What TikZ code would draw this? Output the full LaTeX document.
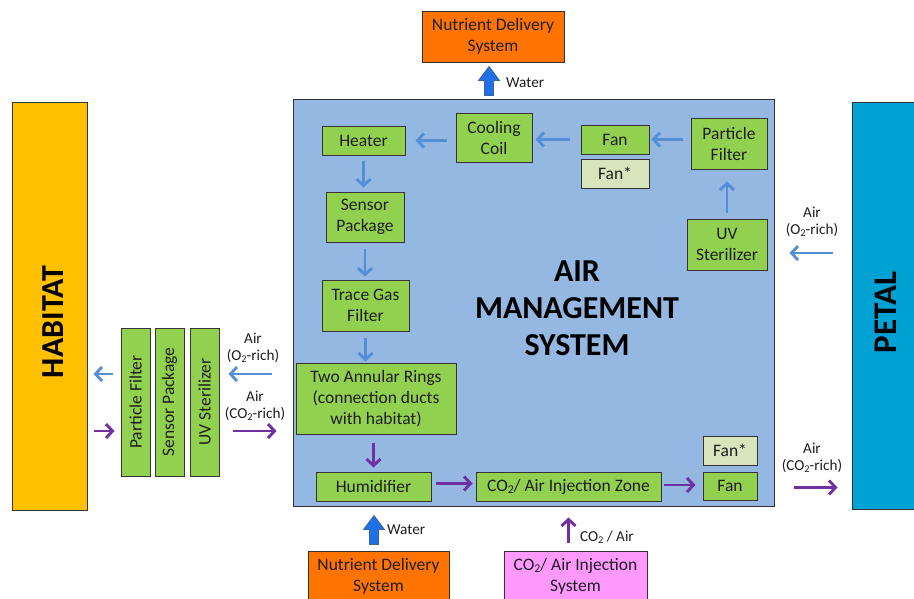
\documentclass[tikz,border=0pt]{standalone}
\usepackage{fontspec}
\setmainfont{Carlito}
\usetikzlibrary{arrows.meta,calc}
\definecolor{grn}{HTML}{92D050}
\definecolor{pale}{HTML}{D8E4BC}
\definecolor{amsfill}{HTML}{95B8E3}
\definecolor{habfill}{HTML}{FFC000}
\definecolor{petfill}{HTML}{00A1D3}
\definecolor{orng}{HTML}{FF7300}
\definecolor{pnk}{HTML}{FF99FF}
\definecolor{arrblue}{HTML}{558ED5}
\definecolor{purp}{HTML}{7030A0}
\definecolor{blkfill}{HTML}{1F70E8}
\definecolor{blkline}{HTML}{3C6496}
\definecolor{txt}{HTML}{1E1E1E}
\definecolor{edge}{HTML}{333333}
\newcommand\subtwo{\raisebox{-0.3ex}{\scalebox{0.68}{2}}}
\newcommand\blockup[1]{\draw[blockarr] (#1) -- ($(#1)+(10.5,14)$) -- ($(#1)+(4.5,14)$) -- ($(#1)+(4.5,29)$) -- ($(#1)+(-4.5,29)$) -- ($(#1)+(-4.5,14)$) -- ($(#1)+(-10.5,14)$) -- cycle;}
\begin{document}
\begin{tikzpicture}[x=1pt,y=-1pt,
  box/.style={draw=edge, line width=1pt, fill=grn, inner sep=0pt, align=center, text=txt, font=\fontsize{17.5}{21}\selectfont},
  palebox/.style={box, fill=pale},
  bigbox/.style={draw=edge, line width=1pt, inner sep=0pt, align=center, text=txt, font=\fontsize{17.5}{21.5}\selectfont},
  lbl/.style={inner sep=0pt, align=center, text=txt, font=\fontsize{15.2}{17}\selectfont},
  blu/.style={draw=arrblue, line width=2.9pt, -{Straight Barb[length=6.5pt,width=14pt]}},
  pur/.style={draw=purp, line width=2.9pt, -{Straight Barb[length=6.5pt,width=14pt]}},
  blockarr/.style={fill=blkfill, draw=blkline, line width=0.8pt, line join=miter}]
\useasboundingbox (0,0) rectangle (914,598);
% side systems
\node[bigbox, fill=habfill, minimum width=75, minimum height=408] (habitat) at (49.5,306) {};
\node[rotate=90, inner sep=0pt, font=\fontsize{32}{33}\selectfont\bfseries] (habtxt) at (53,322) {HABITAT};
\node[bigbox, fill=petfill, minimum width=70, minimum height=407] (petal) at (887,305.5) {};
\node[rotate=90, inner sep=0pt, font=\fontsize{33}{34}\selectfont\bfseries] (pettxt) at (886,312.5) {PETAL};
% AMS
\node[bigbox, fill=amsfill, minimum width=481, minimum height=407] (ams) at (533.5,302.5) {};
\node[inner sep=0pt, align=center, font=\fontsize{32}{37}\selectfont\bfseries] (amstxt) at (577,308) {AIR\\MANAGEMENT\\SYSTEM};
% external boxes
\node[bigbox, fill=orng, minimum width=142, minimum height=51] (ndstop) at (493,36.5) {Nutrient Delivery\\System};
\node[bigbox, fill=orng, minimum width=141, minimum height=51] (ndsbot) at (378.5,576.5) {Nutrient Delivery\\System};
\node[bigbox, fill=pnk, minimum width=143, minimum height=51] (co2sys) at (575.5,576.5) {CO\subtwo/ Air Injection\\System};
% interior boxes
\node[box, minimum width=83, minimum height=29] (heater) at (363.5,140.5) {Heater};
\node[box, minimum width=76, minimum height=49] (cool) at (494,137.5) {Cooling\\Coil};
\node[box, minimum width=68, minimum height=29] (fant) at (615,139.5) {Fan};
\node[palebox, minimum width=68, minimum height=29] (fanst) at (615,173.5) {Fan*};
\node[box, minimum width=76, minimum height=51] (rpf) at (729,143.5) {Particle\\Filter};
\node[box, minimum width=80, minimum height=51] (ruv) at (727,244.5) {UV\\Sterilizer};
\node[box, minimum width=78, minimum height=50] (sensor) at (365,217) {Sensor\\Package};
\node[box, minimum width=87, minimum height=51] (trace) at (365.5,305.5) {Trace Gas\\Filter};
\node[box, minimum width=160, minimum height=71] (two) at (376,398.5) {Two Annular Rings\\(connection ducts\\with habitat)};
\node[box, minimum width=115, minimum height=29] (humid) at (373.5,486.5) {Humidifier};
\node[box, minimum width=185, minimum height=29] (zone) at (568.5,486.5) {CO\subtwo/ Air Injection Zone};
\node[palebox, minimum width=54, minimum height=29] (fanbs) at (730,450.5) {Fan*};
\node[box, minimum width=54, minimum height=28] (fanb) at (730,486) {Fan};
% left vertical boxes
\node[box, minimum width=29, minimum height=148] (lpf) at (135.5,402) {\rotatebox{90}{Particle Filter}};
\node[box, minimum width=29, minimum height=148] (lsp) at (169.5,402) {\rotatebox{90}{Sensor Package}};
\node[box, minimum width=29, minimum height=148] (luv) at (204.5,402) {\rotatebox{90}{UV Sterilizer}};
% labels
\node[lbl] (lblO) at (253,348) {Air\\(O\subtwo-rich)};
\node[lbl] (lblC) at (255,405.5) {Air\\(CO\subtwo-rich)};
\node[lbl] (rblO) at (812,221.5) {Air\\(O\subtwo-rich)};
\node[lbl] (rblC) at (812,458) {Air\\(CO\subtwo-rich)};
\node[lbl, anchor=west] (wtop) at (506,83) {Water};
\node[lbl, anchor=west] (wbot) at (387,530) {Water};
\node[lbl, anchor=west] (co2lbl) at (580,537) {CO\subtwo{} / Air};
% level coordinates
\coordinate (yO) at (0,374);
\coordinate (yC) at (0,431);
\coordinate (yR1) at (0,253);
\coordinate (yR2) at (0,487.5);
% interior blue arrows
\draw[blu, shorten <=9pt, shorten >=10pt] (cool.west |- heater.east) -- (heater.east);
\draw[blu, shorten <=11pt, shorten >=3pt] (fant.west) -- (cool.east |- fant.west);
\draw[blu, shorten <=8pt, shorten >=2pt] (rpf.west |- fant.east) -- (fant.east);
\draw[blu, shorten <=6pt, shorten >=12pt] (ruv.north) -- (ruv.north |- rpf.south);
\draw[blu, shorten <=5pt, shorten >=4pt] (heater.south) -- (heater.south |- sensor.north);
\draw[blu, shorten <=6pt, shorten >=3pt] (sensor.south) -- (sensor.south |- trace.north);
\draw[blu, shorten <=6pt, shorten >=1pt] (trace.south) -- (trace.south |- two.north);
% interior purple arrows
\draw[pur, shorten <=8pt, shorten >=4pt] (humid.north |- two.south) -- (humid.north);
\draw[pur, shorten <=4pt, shorten >=3pt] ([yshift=3pt]humid.east) -- ([yshift=3pt]humid.east -| zone.west);
\draw[pur, shorten <=2pt, shorten >=7pt] ([yshift=1.5pt]zone.east) -- ([yshift=1.5pt]zone.east -| fanb.west);
% exterior arrows
\draw[blu, shorten <=19pt, shorten >=15pt] (petal.west |- yR1) -- (ams.east |- yR1);
\draw[pur, shorten <=19pt, shorten >=14pt] (ams.east |- yR2) -- (petal.west |- yR2);
\draw[blu, shorten <=21pt, shorten >=9pt] (ams.west |- yO) -- (luv.east |- yO);
\draw[pur, shorten <=13pt, shorten >=16pt] (luv.east |- yC) -- (ams.west |- yC);
\draw[blu, shorten <=8pt, shorten >=6pt] (lpf.west |- yO) -- (habitat.east |- yO);
\draw[pur, shorten <=6pt, shorten >=6pt] (habitat.east |- yC) -- (lpf.west |- yC);
\draw[pur, shorten <=8pt, shorten >=11pt] (co2sys.north -| zone.south) -- (ams.south -| zone.south);
% block water arrows
\coordinate (wtip1) at ($(ndstop.south)+(-4,4)$);
\coordinate (wtip2) at ($(ams.south -| ndsbot.north)+(-4.5,9)$);
\blockup{wtip1}
\blockup{wtip2}
\end{tikzpicture}
\end{document}
